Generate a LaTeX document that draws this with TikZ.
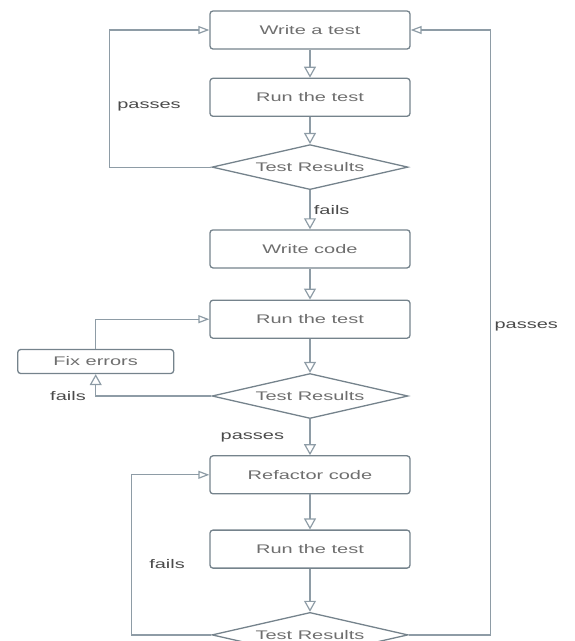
\documentclass[tikz,border=0pt]{standalone}
\usepackage{fontspec}
\newfontfamily\chartfont[FakeStretch=1.6]{Liberation Sans}
\usetikzlibrary{positioning, shapes.geometric, arrows.meta}
\definecolor{linegray}{HTML}{8E9CA6}
\definecolor{boxgray}{HTML}{75838C}
\definecolor{textgray}{HTML}{6E6E6E}
\definecolor{labelgray}{HTML}{4A4A4A}

\begin{document}
\begin{tikzpicture}[x = 1pt, y = 1pt, node distance = 30pt,
    box/.style = {draw = boxgray, line width = 1.3pt, rounded corners = 3pt,
      minimum width = 200pt, minimum height = 38pt, text = textgray,
      font = \chartfont\fontsize{12.5}{14}\selectfont},
    test/.style = {diamond, aspect = 4.3, draw = boxgray, line width = 1.3pt,
      inner sep = 0pt, minimum width = 196pt, minimum height = 45pt, text = textgray,
      font = \chartfont\fontsize{12.5}{14}\selectfont},
    flow/.style = {draw = linegray, line width = 1.2pt,
      -{Triangle[open, length = 11pt, width = 12pt]}},
    back/.style = {draw = linegray, line width = 1.2pt,
      -{Triangle[open, length = 11pt, width = 8pt]}},
    lbl/.style = {text = labelgray, font = \chartfont\fontsize{12.5}{15}\selectfont}]
    \useasboundingbox (0,0) rectangle (574,-641);
    \clip (0,0) rectangle (574,-641);
    \node[box] (write) at (310,-30) {Write a test};
    \node[box, below = 28pt of write] (run1) {Run the test};
    \node[test, below = 27pt of run1] (dia1) {Test Results};
    \node[box, below = 39pt of dia1] (code) {Write code};
    \node[box, below = 31pt of code] (run2) {Run the test};
    \node[box, minimum width = 156pt, minimum height = 24pt,
      below left = 10pt and 35pt of run2.south west] (fix) {Fix errors};
    \node[test, below = 34pt of run2] (dia2) {Test Results};
    \node[box, below = 36pt of dia2] (refactor) {Refactor code};
    \node[box, below = 35pt of refactor] (run3) {Run the test};
    \node[test, below = 43pt of run3] (dia3) {Test Results};
    \foreach \i\j in {write/run1, run1/dia1, code/run2, run2/dia2, refactor/run3, run3/dia3} {
      \draw[flow] (\i) -- (\j);
    }
    \draw[flow] (dia1) -- node[lbl, right] {fails} (code);
    \draw[flow] (dia2) -- node[lbl, left = 22pt] {passes} (refactor);
    \draw[back] (dia1.west) -- ++(-102,0) |- node[lbl, right = 4pt, pos = 0.22] {passes} (write.west);
    \draw[back] (dia3.east) -- ++(82,0) |- node[lbl, right, pos = 0.255] {passes} (write.east);
    \draw[flow] (dia2.west) -| node[lbl, left = 6pt, pos = 0.5] {fails} (fix.south);
    \draw[back] (fix.north) |- (run2.west);
    \draw[back] (dia3.west) -- ++(-80,0) |- node[lbl, right = 14pt, pos = 0.22] {fails} (refactor.west);
  \end{tikzpicture}
\end{document}
